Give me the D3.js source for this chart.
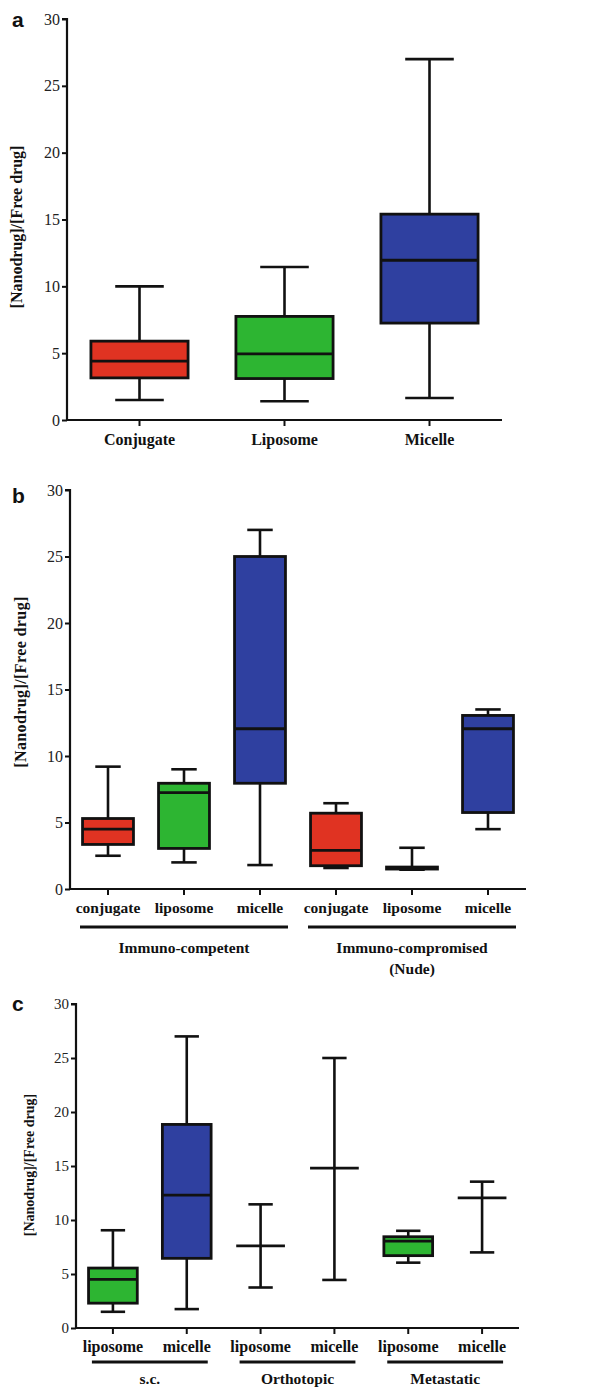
<!DOCTYPE html>
<html><head><meta charset="utf-8">
<script src="https://cdn.jsdelivr.net/npm/d3@7"></script>
<style>body{margin:0;background:#fff}svg{display:block}</style>
</head><body>
<script>
// Panel a
const catsA = ["Conjugate","Liposome","Micelle"];
const typesA = ["conjugate","liposome","micelle"];
const minA = [1.5, 1.4, 1.65];
const q1A  = [3.15, 3.1, 7.25];
const medA = [4.4, 4.95, 11.95];
const q3A  = [5.9, 7.75, 15.4];
const maxA = [10, 11.45, 27];

// Panel b
const catsB = ["conjugate","liposome","micelle","conjugate","liposome","micelle"];
const typesB = ["conjugate","liposome","micelle","conjugate","liposome","micelle"];
const minB = [2.5, 2.0, 1.8, 1.58, 1.45, 4.5];
const q1B  = [3.35, 3.05, 7.95, 1.75, 1.5, 5.75];
const medB = [4.5, 7.25, 12.05, 2.9, 1.6, 12.05];
const q3B  = [5.3, 7.95, 25, 5.7, 1.65, 13.05];
const maxB = [9.2, 9.0, 27, 6.45, 3.1, 13.5];
const groupsB = [["Immuno-competent"], ["Immuno-compromised","(Nude)"]];
const groupSpanB = [[0,2],[3,5]];

// Panel c
const catsC = ["liposome","micelle","liposome","micelle","liposome","micelle"];
const typesC = ["liposome","micelle","liposome","micelle","liposome","micelle"];
const minC = [1.5, 1.75, 3.75, 4.45, 6.05, 7.0];
const q1C  = [2.3, 6.45, 7.6, 14.8, 6.7, 12.05];
const medC = [4.5, 12.3, 7.6, 14.8, 8.05, 12.05];
const q3C  = [5.55, 18.85, 7.6, 14.8, 8.45, 12.05];
const maxC = [9.05, 27, 11.45, 25, 9.0, 13.55];
const groupsC = [["s.c."],["Orthotopic"],["Metastatic"]];
const groupSpanC = [[0,1],[2,3],[4,5]];

const yTicks = [0,5,10,15,20,25,30];
const yTitle = "[Nanodrug]/[Free drug]";

const fill = {conjugate:"#e03322", liposome:"#2db532", micelle:"#2f40a0"};

const svg = d3.select("body").append("svg").attr("width",593).attr("height",1387);

function panel(o){
  const g = svg.append("g");
  const y = d3.scaleLinear().domain([0,30]).range([o.y0, o.y30]);
  const x = d3.scaleBand().domain(d3.range(o.cats.length)).range([o.xl, o.xr]).paddingInner(0).paddingOuter(0);
  const bw = x.step()*o.bwFrac;
  // y axis
  const ya = d3.axisLeft(y).tickValues(yTicks).tickSize(5).tickPadding(2);
  const yg = g.append("g").attr("transform",`translate(${o.xl},0)`).call(ya);
  yg.select(".domain").attr("stroke","#111").attr("stroke-width",2.2).attr("d",`M-5,${y(30)}H0V${y(0)}`);
  yg.selectAll(".tick line").attr("stroke","#111").attr("stroke-width",2);
  yg.selectAll(".tick text").attr("font-family","Liberation Serif").attr("font-size",o.tickFs).attr("fill","#222");
  // x axis
  const xa = d3.axisBottom(x).tickSize(6).tickFormat(i=>o.cats[i]).tickPadding(5);
  const xg = g.append("g").attr("transform",`translate(0,${o.y0})`).call(xa);
  xg.select(".domain").attr("stroke","#111").attr("stroke-width",2.2).attr("d",`M${o.xl},0H${o.xr}`);
  xg.selectAll(".tick line").attr("stroke","#111").attr("stroke-width",2);
  xg.selectAll(".tick text").attr("font-family","Liberation Serif").attr("font-weight","bold")
    .attr("font-size",o.xFs).attr("fill","#111").attr("dy",o.xDy);
  // boxes
  o.cats.forEach((c,i)=>{
    const cx = x(i)+x.bandwidth()/2;
    const bg = g.append("g");
    const cap = bw/2;
    bg.append("line").attr("x1",cx).attr("x2",cx).attr("y1",y(o.max[i])).attr("y2",y(o.q3[i])).attr("stroke","#111").attr("stroke-width",2.6);
    bg.append("line").attr("x1",cx).attr("x2",cx).attr("y1",y(o.q1[i])).attr("y2",y(o.min[i])).attr("stroke","#111").attr("stroke-width",2.6);
    bg.append("line").attr("x1",cx-cap/2).attr("x2",cx+cap/2).attr("y1",y(o.max[i])).attr("y2",y(o.max[i])).attr("stroke","#111").attr("stroke-width",2.6);
    bg.append("line").attr("x1",cx-cap/2).attr("x2",cx+cap/2).attr("y1",y(o.min[i])).attr("y2",y(o.min[i])).attr("stroke","#111").attr("stroke-width",2.6);
    if (o.q3[i] > o.q1[i]) {
      bg.append("rect").attr("x",cx-bw/2).attr("width",bw).attr("y",y(o.q3[i])).attr("height",y(o.q1[i])-y(o.q3[i]))
        .attr("fill",fill[o.types[i]]).attr("stroke","#111").attr("stroke-width",2.8);
    }
    bg.append("line").attr("x1",cx-bw/2).attr("x2",cx+bw/2).attr("y1",y(o.med[i])).attr("y2",y(o.med[i])).attr("stroke","#111").attr("stroke-width",2.8);
  });
  // y title
  g.append("text").attr("transform",`translate(${o.titleX},${o.titleY}) rotate(-90)`).attr("text-anchor","middle")
    .attr("dominant-baseline","central").attr("font-family","Liberation Serif").attr("font-weight","bold")
    .attr("font-size",o.titleFs).attr("fill","#111").attr("letter-spacing",o.titleLs||0).text(yTitle);
  // panel letter
  g.append("text").attr("x",o.letterX).attr("y",o.letterY).attr("font-family","Liberation Sans").attr("font-weight","bold")
    .attr("font-size",21).attr("fill","#111").text(o.letter);
  // groups
  if (o.groups){
    o.groups.forEach((lab,k)=>{
      const [a,b] = o.spans[k];
      const x1 = x(a)+x.bandwidth()/2 - o.gExt, x2 = x(b)+x.bandwidth()/2 + o.gExt;
      g.append("line").attr("x1",x1).attr("x2",x2).attr("y1",o.gLineY).attr("y2",o.gLineY).attr("stroke","#111").attr("stroke-width",3.2);
      lab.forEach((t,j)=>{
        g.append("text").attr("x",(x1+x2)/2).attr("y",o.gTextY + j*o.gLh).attr("text-anchor","middle")
          .attr("font-family","Liberation Serif").attr("font-weight","bold").attr("font-size",o.gFs).attr("fill","#111").text(t);
      });
    });
  }
}

panel({cats:catsA,types:typesA,min:minA,q1:q1A,med:medA,q3:q3A,max:maxA,
  xl:67,xr:502,y0:420,y30:19,bwFrac:0.67,tickFs:16,xFs:16,xDy:"0.9em",
  titleX:16,titleY:227,titleFs:16,letter:"a",letterX:12,letterY:27});

panel({cats:catsB,types:typesB,min:minB,q1:q1B,med:medB,q3:q3B,max:maxB,
  xl:70,xr:526,y0:889,y30:490,bwFrac:0.67,tickFs:16,xFs:15.5,xDy:"0.85em",
  titleX:20,titleY:682,titleFs:16,titleLs:0.4,letter:"b",letterX:12,letterY:503,
  groups:groupsB,spans:groupSpanB,gExt:28,gLineY:927,gTextY:953,gLh:21,gFs:15.5});

panel({cats:catsC,types:typesC,min:minC,q1:q1C,med:medC,q3:q3C,max:maxC,
  xl:76,xr:519,y0:1328,y30:1004,bwFrac:0.66,tickFs:15,xFs:16,xDy:"0.8em",
  titleX:29,titleY:1165,titleFs:14,letter:"c",letterX:12,letterY:1011,
  groups:groupsC,spans:groupSpanC,gExt:21,gLineY:1362,gTextY:1384,gLh:20,gFs:15.5});
</script>
</body></html>
